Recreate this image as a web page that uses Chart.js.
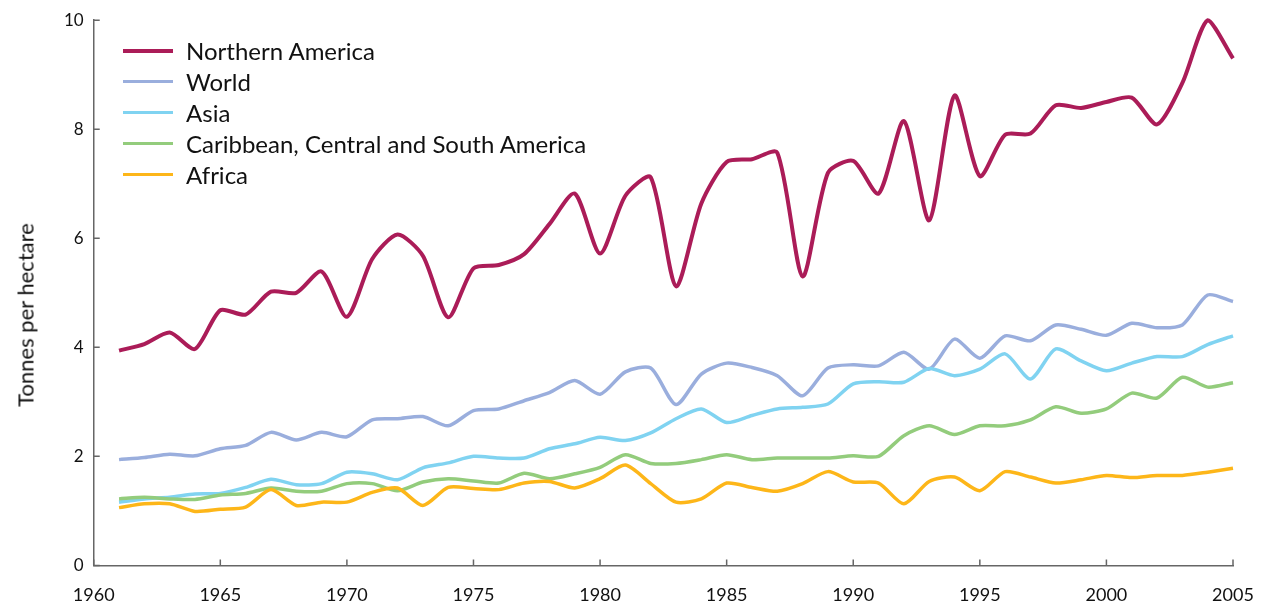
<!DOCTYPE html>
<html>
<head>
<meta charset="utf-8">
<script src="https://cdn.jsdelivr.net/npm/chart.js@4/dist/chart.umd.min.js"></script>
<style>
  body { margin: 0; background: #fff; }
  #wrap { position: relative; width: 1270px; height: 604px; }
  #legend { position: absolute; left: 123px; top: 35px; font-family: Lato, "Noto Sans", sans-serif; font-size: 24px; color: #111; }
  #legend .row { display: flex; align-items: center; height: 31px; }
  #legend .swatch { width: 50px; margin-right: 13px; }
  #ytitle { position: absolute; left: 25px; top: 315px; transform: translate(-50%, -50%) rotate(-90deg);
    white-space: nowrap; font-family: Lato, "Noto Sans", sans-serif; font-size: 22px; color: #111; }
</style>
</head>
<body>
<div id="wrap">
  <canvas id="yield-chart" width="1270" height="604"></canvas>
  <div id="legend"></div>
  <div id="ytitle">Tonnes per hectare</div>
</div>
<script>
const years = [1961, 1962, 1963, 1964, 1965, 1966, 1967, 1968, 1969, 1970,
  1971, 1972, 1973, 1974, 1975, 1976, 1977, 1978, 1979, 1980,
  1981, 1982, 1983, 1984, 1985, 1986, 1987, 1988, 1989, 1990,
  1991, 1992, 1993, 1994, 1995, 1996, 1997, 1998, 1999, 2000,
  2001, 2002, 2003, 2004, 2005];

const northernAmerica = [3.94, 4.06, 4.27, 3.97, 4.68, 4.60, 5.02, 5.00, 5.39, 4.56,
  5.62, 6.07, 5.68, 4.55, 5.45, 5.51, 5.71, 6.26, 6.82, 5.72,
  6.78, 7.12, 5.12, 6.64, 7.40, 7.45, 7.57, 5.30, 7.20, 7.42,
  6.82, 8.15, 6.33, 8.62, 7.14, 7.90, 7.92, 8.44, 8.39, 8.50,
  8.58, 8.09, 8.85, 10.0, 9.30];

const world = [1.94, 1.98, 2.04, 2.01, 2.14, 2.20, 2.44, 2.30, 2.44, 2.36,
  2.67, 2.69, 2.73, 2.56, 2.84, 2.87, 3.02, 3.17, 3.39, 3.14,
  3.55, 3.62, 2.95, 3.51, 3.71, 3.63, 3.48, 3.11, 3.62, 3.68,
  3.66, 3.91, 3.60, 4.15, 3.80, 4.21, 4.12, 4.41, 4.33, 4.22,
  4.44, 4.36, 4.41, 4.96, 4.84];

const asia = [1.16, 1.22, 1.25, 1.31, 1.32, 1.43, 1.58, 1.48, 1.50, 1.71,
  1.68, 1.57, 1.79, 1.88, 2.00, 1.97, 1.97, 2.14, 2.23, 2.35,
  2.29, 2.43, 2.69, 2.87, 2.62, 2.75, 2.87, 2.90, 2.96, 3.33,
  3.37, 3.36, 3.61, 3.48, 3.60, 3.88, 3.42, 3.97, 3.75, 3.57,
  3.71, 3.83, 3.83, 4.05, 4.21];

const latinAmerica = [1.22, 1.25, 1.22, 1.21, 1.29, 1.32, 1.42, 1.36, 1.36, 1.50,
  1.50, 1.37, 1.53, 1.59, 1.55, 1.51, 1.69, 1.59, 1.68, 1.80,
  2.03, 1.87, 1.87, 1.94, 2.03, 1.94, 1.97, 1.97, 1.97, 2.01,
  2.00, 2.38, 2.56, 2.40, 2.56, 2.56, 2.67, 2.91, 2.79, 2.87,
  3.16, 3.07, 3.45, 3.27, 3.35];

const africa = [1.06, 1.13, 1.13, 0.99, 1.03, 1.07, 1.39, 1.10, 1.16, 1.16,
  1.34, 1.42, 1.10, 1.43, 1.41, 1.39, 1.51, 1.54, 1.42, 1.59,
  1.84, 1.50, 1.16, 1.22, 1.51, 1.43, 1.36, 1.50, 1.72, 1.53,
  1.51, 1.13, 1.54, 1.62, 1.37, 1.72, 1.62, 1.51, 1.57, 1.65,
  1.61, 1.65, 1.65, 1.71, 1.78];

const seriesLabels = ["Northern America", "World", "Asia", "Caribbean, Central and South America", "Africa"];
const seriesValues = [northernAmerica, world, asia, latinAmerica, africa];
const seriesColors = ["#ab1c58", "#9aaedd", "#80d3f1", "#93cc7c", "#fdb619"];
const seriesWidths = [4, 3.5, 3.5, 3.5, 3.5];

const FONT = "Lato, 'Noto Sans', sans-serif";

function points(values) {
  return years.map(function (y, i) { return { x: y, y: values[i] }; });
}

const datasets = seriesLabels.map(function (label, i) {
  return {
    label: label,
    data: points(seriesValues[i]),
    borderColor: seriesColors[i],
    backgroundColor: seriesColors[i],
    borderWidth: seriesWidths[i],
    pointRadius: 0,
    tension: 0.25,
    clip: false
  };
}).reverse();

// tick marks pointing into the plot, like the original
const innerTicks = {
  id: 'innerTicks',
  afterDraw: function (chart) {
    const ctx = chart.ctx;
    const area = chart.chartArea;
    const xs = chart.scales.x, ys = chart.scales.y;
    ctx.save();
    ctx.strokeStyle = '#666';
    ctx.lineWidth = 1.5;
    ctx.beginPath();
    xs.ticks.forEach(function (t, i) {
      const px = xs.getPixelForTick(i);
      ctx.moveTo(px, area.bottom);
      ctx.lineTo(px, area.bottom - 6);
    });
    ys.ticks.forEach(function (t, i) {
      const py = ys.getPixelForTick(i);
      ctx.moveTo(area.left, py);
      ctx.lineTo(area.left + 6, py);
    });
    ctx.stroke();
    ctx.restore();
  }
};

const config = {
  type: 'line',
  data: { datasets: datasets },
  plugins: [innerTicks],
  options: {
    responsive: false,
    animation: false,
    devicePixelRatio: 1,
    layout: { padding: { left: 54, right: 37, top: 12, bottom: -21 } },
    plugins: {
      legend: { display: false },
      tooltip: { enabled: false }
    },
    scales: {
      x: {
        type: 'linear',
        min: 1960,
        max: 2005,
        border: { display: true, color: '#666', width: 1.5 },
        grid: { display: false, drawTicks: false },
        afterFit: function (scale) { scale.paddingRight = 0; },
        ticks: {
          stepSize: 5,
          padding: 19,
          color: '#111',
          font: { family: FONT, size: 18 },
          callback: function (v) { return String(v); }
        }
      },
      y: {
        min: 0,
        max: 10,
        border: { display: true, color: '#666', width: 1.5 },
        grid: { display: false, drawTicks: false },
        ticks: {
          stepSize: 2,
          padding: 10,
          color: '#111',
          font: { family: FONT, size: 17 }
        }
      }
    }
  }
};

const chart = new Chart(document.getElementById('yield-chart'), config);

// legend in the top-left corner of the plot
const legendBox = document.getElementById('legend');
seriesLabels.forEach(function (label, i) {
  const row = document.createElement('div');
  row.className = 'row';
  const sw = document.createElement('div');
  sw.className = 'swatch';
  sw.style.height = seriesWidths[i] + 'px';
  sw.style.background = seriesColors[i];
  const txt = document.createElement('span');
  txt.textContent = label;
  row.appendChild(sw);
  row.appendChild(txt);
  legendBox.appendChild(row);
});
</script>
</body>
</html>
